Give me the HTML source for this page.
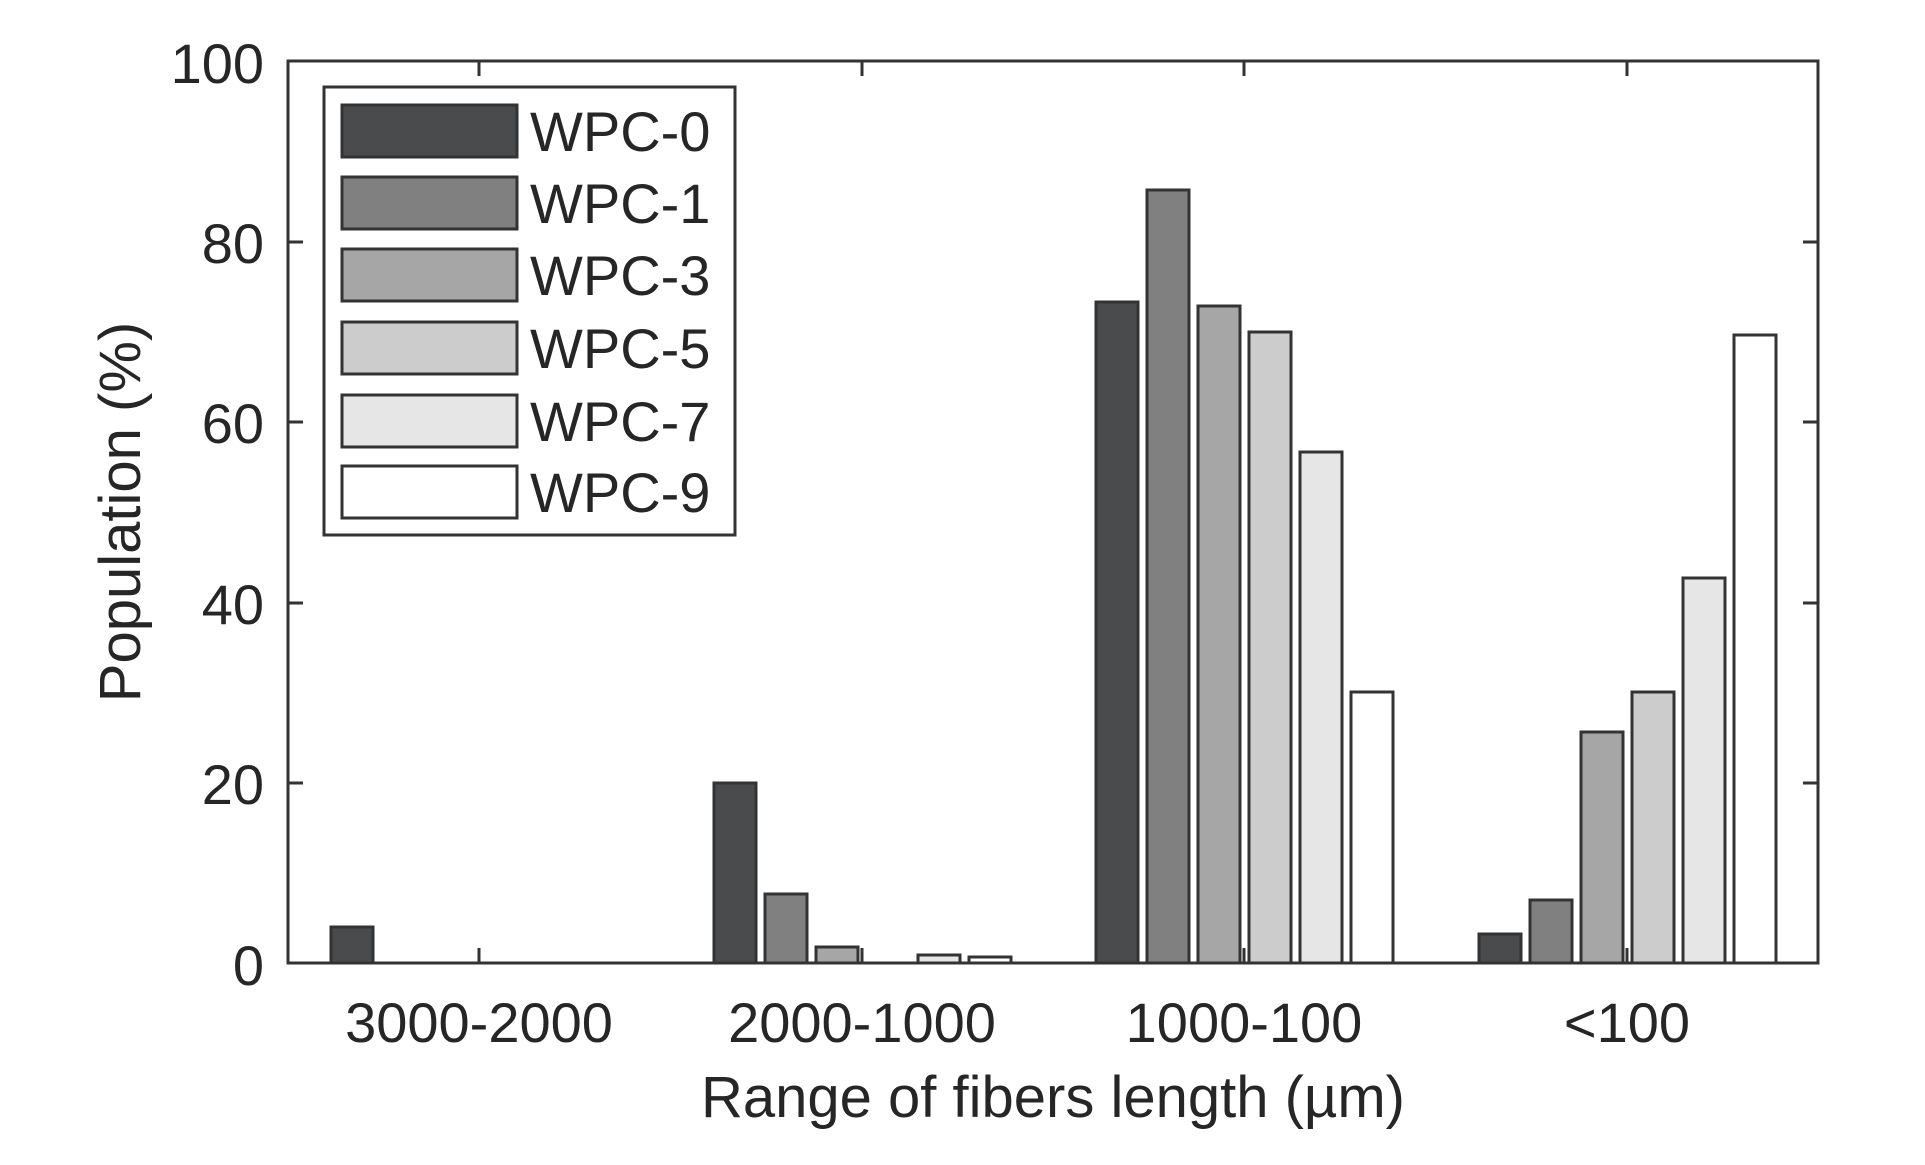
<!DOCTYPE html>
<html><head><meta charset="utf-8"><style>
html,body{margin:0;padding:0;background:#fff;}
svg text{font-family:"Liberation Sans",Arial,sans-serif;fill:#262626;}
</style></head><body>
<svg width="1925" height="1160" viewBox="0 0 1925 1160" xmlns="http://www.w3.org/2000/svg">
<rect width="1925" height="1160" fill="#fff"/>
<g stroke="#333" stroke-width="3">
<!-- 3000-2000 center 479 -->
<rect x="331" y="927" width="42" height="36" fill="#4a4b4d"/>
<!-- 2000-1000 center 862 -->
<rect x="714" y="783" width="42" height="180" fill="#4a4b4d"/>
<rect x="765" y="894" width="42" height="69" fill="#808080"/>
<rect x="816" y="947" width="42" height="16" fill="#a6a6a6"/>
<rect x="918" y="955" width="42" height="8" fill="#e6e6e6"/>
<rect x="969" y="957" width="42" height="6" fill="#ffffff"/>
<!-- 1000-100 center 1244 -->
<rect x="1096" y="302" width="42" height="661" fill="#4a4b4d"/>
<rect x="1147" y="190" width="42" height="773" fill="#808080"/>
<rect x="1198" y="306" width="42" height="657" fill="#a6a6a6"/>
<rect x="1249" y="332" width="42" height="631" fill="#cccccc"/>
<rect x="1300" y="452" width="42" height="511" fill="#e6e6e6"/>
<rect x="1351" y="692" width="42" height="271" fill="#ffffff"/>
<!-- <100 center 1627 -->
<rect x="1479" y="934" width="42" height="29" fill="#4a4b4d"/>
<rect x="1530" y="900" width="42" height="63" fill="#808080"/>
<rect x="1581" y="732" width="42" height="231" fill="#a6a6a6"/>
<rect x="1632" y="692" width="42" height="271" fill="#cccccc"/>
<rect x="1683" y="578" width="42" height="385" fill="#e6e6e6"/>
<rect x="1734" y="335" width="42" height="628" fill="#ffffff"/>
</g>
<!-- axes box -->
<rect x="288" y="61" width="1530" height="902" fill="none" stroke="#333" stroke-width="3"/>
<g stroke="#333" stroke-width="3">
<line x1="288" y1="783" x2="303" y2="783"/><line x1="288" y1="603" x2="303" y2="603"/>
<line x1="288" y1="422" x2="303" y2="422"/><line x1="288" y1="242" x2="303" y2="242"/>
<line x1="1818" y1="783" x2="1803" y2="783"/><line x1="1818" y1="603" x2="1803" y2="603"/>
<line x1="1818" y1="422" x2="1803" y2="422"/><line x1="1818" y1="242" x2="1803" y2="242"/>
<line x1="479" y1="963" x2="479" y2="948"/><line x1="862" y1="963" x2="862" y2="948"/>
<line x1="1244" y1="963" x2="1244" y2="948"/><line x1="1627" y1="963" x2="1627" y2="948"/>
<line x1="479" y1="61" x2="479" y2="76"/><line x1="862" y1="61" x2="862" y2="76"/>
<line x1="1244" y1="61" x2="1244" y2="76"/><line x1="1627" y1="61" x2="1627" y2="76"/>
</g>
<g font-size="56" text-anchor="end">
<text x="264" y="83">100</text>
<text x="264" y="263">80</text>
<text x="264" y="443">60</text>
<text x="264" y="624">40</text>
<text x="264" y="804">20</text>
<text x="264" y="985">0</text>
</g>
<g font-size="56" text-anchor="middle">
<text x="479" y="1042">3000-2000</text>
<text x="862" y="1042">2000-1000</text>
<text x="1244" y="1042">1000-100</text>
<text x="1627" y="1042">&lt;100</text>
<text x="1053" y="1117" font-size="58">Range of fibers length (µm)</text>
<text transform="translate(140,512) rotate(-90)" font-size="58">Population (%)</text>
</g>
<!-- legend -->
<rect x="324" y="87" width="411" height="448" fill="#fff" stroke="#333" stroke-width="3"/>
<g stroke="#333" stroke-width="3">
<rect x="342" y="105" width="175" height="52" fill="#4a4b4d"/>
<rect x="342" y="177" width="175" height="52" fill="#808080"/>
<rect x="342" y="249" width="175" height="52" fill="#a6a6a6"/>
<rect x="342" y="322" width="175" height="52" fill="#cccccc"/>
<rect x="342" y="395" width="175" height="52" fill="#e6e6e6"/>
<rect x="342" y="466" width="175" height="52" fill="#ffffff"/>
</g>
<g font-size="56">
<text x="530" y="151">WPC-0</text>
<text x="530" y="223">WPC-1</text>
<text x="530" y="295">WPC-3</text>
<text x="530" y="368">WPC-5</text>
<text x="530" y="441">WPC-7</text>
<text x="530" y="512">WPC-9</text>
</g>
</svg>
</body></html>
